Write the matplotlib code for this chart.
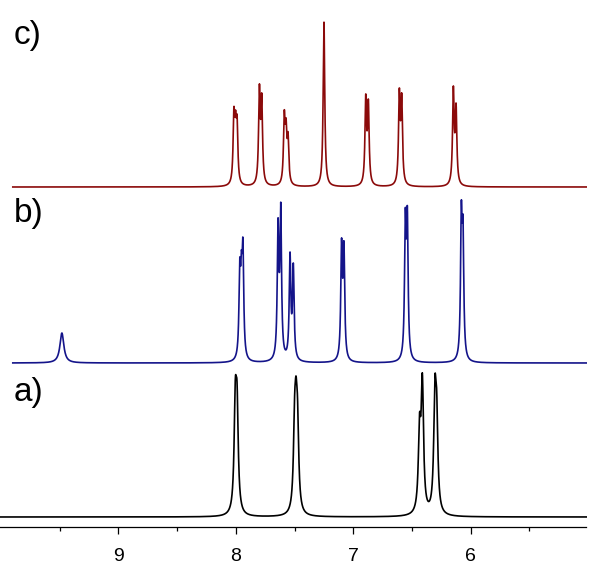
"""Stacked 1H NMR spectra a) / b) / c) rebuilt from read-off peak lists."""
import numpy as np
import matplotlib
matplotlib.use("Agg")
import matplotlib.pyplot as plt
from matplotlib.ticker import FixedLocator

plt.rcParams["font.family"] = ["Liberation Sans", "DejaVu Sans"]

# peak lists: shift (ppm), apparent height (px above baseline), half width (ppm)
A_PPM = [8.005, 7.99, 7.500, 7.488, 7.475, 6.436, 6.412, 6.305, 6.290]
A_H = [138, 134, 121, 141, 119, 104, 144, 141, 127]
A_G = [0.012] * 9

B_PPM = [9.482, 7.967, 7.953, 7.940, 7.641, 7.618, 7.539, 7.511, 7.100, 7.080, 6.557, 6.540, 6.080, 6.066]
B_H = [30, 105, 113, 125, 145, 161, 111, 100, 125, 122, 155, 157, 162, 147]
B_G = [0.02] + [0.008] * 13

C_PPM = [8.017, 8.003, 7.990, 7.800, 7.780, 7.588, 7.573, 7.556, 7.250, 6.894, 6.872, 6.608, 6.588, 6.148, 6.125]
C_H = [80, 77, 72, 103, 94, 77, 69, 55, 165, 93, 88, 99, 94, 101, 84]
C_G = [0.008] * 15

LABELS = ["a)", "b)", "c)"]
COLORS = ["#000000", "#14148a", "#8b0a0a"]
OFFSETS = [10, 164, 340]          # baseline of each trace (px above the axis)
START = [10.01, 9.90, 9.90]      # left end of each trace (ppm)


def spectrum(x, ppm, h, g):
    ppm = np.asarray(ppm); h = np.asarray(h, float); g = np.asarray(g)
    L = lambda d: g**2 / (d**2 + g**2)
    amp = np.linalg.solve(L(ppm[:, None] - ppm[None, :]), h)
    return (amp[None, :] * L(x[:, None] - ppm[None, :])).sum(axis=1)


fig = plt.figure(figsize=(6.0, 5.75), dpi=100)
ax = fig.add_axes([0.0, 48 / 575, 586.5 / 600, 527 / 575])
XL, XR = 10.009, 5.014

for i, (ppm, h, g) in enumerate([(A_PPM, A_H, A_G), (B_PPM, B_H, B_G), (C_PPM, C_H, C_G)]):
    x = np.linspace(START[i], XR, 6000)
    ax.plot(x, OFFSETS[i] + spectrum(x, ppm, h, g), color=COLORS[i], lw=1.2)

ax.set_xlim(XL, XR); ax.set_ylim(0, 527)
for s in ["top", "left", "right"]:
    ax.spines[s].set_visible(False)
ax.spines["bottom"].set_linewidth(0.9)
ax.set_yticks([])
ax.xaxis.set_major_locator(FixedLocator([9, 8, 7, 6]))
ax.xaxis.set_minor_locator(FixedLocator([9.5, 8.5, 7.5, 6.5, 5.5]))
ax.tick_params(axis="x", which="major", length=5, width=0.9, labelsize=14, pad=10)
ax.tick_params(axis="x", which="minor", length=3, width=0.9)

# panel letters
for lab, ypx in zip(LABELS, [401, 222, 44]):
    fig.text(14 / 600, 1 - ypx / 575, lab, fontsize=24, va="baseline", ha="left")

fig.savefig("out.png", dpi=100)
